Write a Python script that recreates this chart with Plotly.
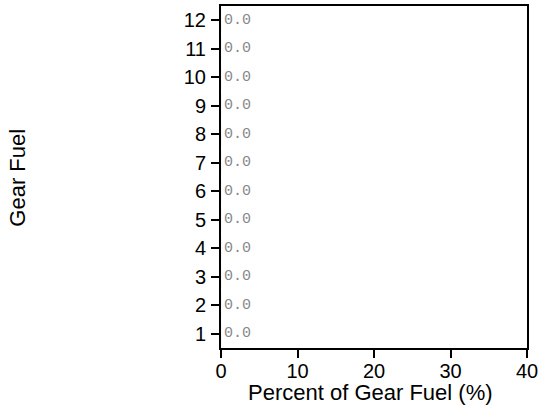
import plotly.graph_objects as go

categories = [str(i) for i in range(1, 13)]
values = [0.0] * 12
text_labels = ["0.0"] * 12
x_ticks = [0, 10, 20, 30, 40]

W, H = 542, 409
L, R, T, B = 221, 14, 4, 61
plot_w = W - L - R
plot_h = H - T - B


def px_x(p):
    return (p - L) / plot_w


def px_y(p):
    return 1 - (p - T) / plot_h


fig = go.Figure()
fig.add_trace(go.Bar(
    x=values, y=[int(c) for c in categories], orientation="h",
    text=text_labels, textposition="outside", cliponaxis=False,
    textfont=dict(family="Liberation Mono", size=15, color="#888888"),
    marker=dict(color="#1f77b4"),
))

axis_common = dict(ticks="outside", ticklen=8, tickwidth=2, tickcolor="black",
                   showline=True, linecolor="black", linewidth=2, mirror=True,
                   showgrid=False, zeroline=False,
                   tickfont=dict(family="Liberation Sans, Arial", size=20, color="black"))

fig.update_layout(
    width=W, height=H,
    margin=dict(l=L, r=R, t=T, b=B),
    paper_bgcolor="white", plot_bgcolor="white",
    showlegend=False,
    font=dict(family="Liberation Sans, Arial", size=20, color="black"),
    xaxis=dict(range=[0, 40], tickvals=x_ticks, ticklabelstandoff=-4, **axis_common),
    yaxis=dict(range=[0.5, 12.5], tickvals=list(range(1, 13)), ticktext=categories,
               ticklabelstandoff=1, **axis_common),
    annotations=[
        dict(text="Gear Fuel", textangle=-90, xref="paper", yref="paper",
             x=px_x(17), y=px_y(177), xanchor="center", yanchor="middle",
             showarrow=False, font=dict(size=22)),
        dict(text="Percent of Gear Fuel (%)", xref="paper", yref="paper",
             x=px_x(370.5), y=px_y(393), xanchor="center", yanchor="middle",
             showarrow=False, font=dict(size=22)),
    ],
)

fig.write_html("out.html", config={"displayModeBar": False},
               post_script="document.body.style.margin='0';")
